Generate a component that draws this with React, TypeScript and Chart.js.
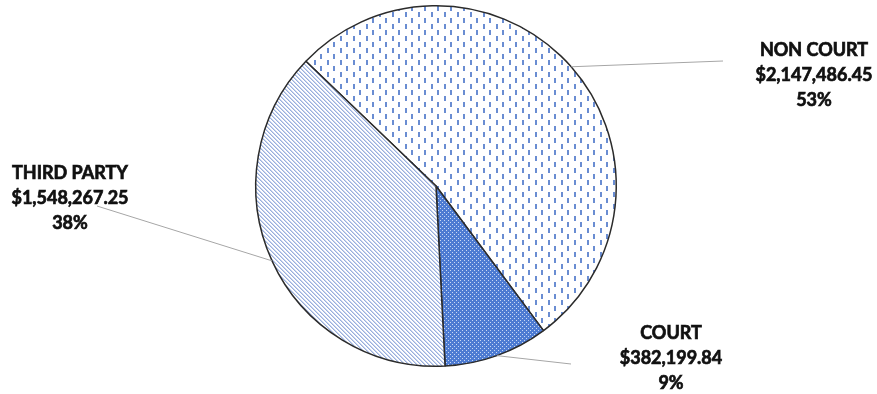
import React, { useEffect, useRef } from "react";
import { Chart, registerables } from "chart.js";

Chart.register(...registerables);

const categories = ["NON COURT", "COURT", "THIRD PARTY"];
const amounts = [2147486.45, 382199.84, 1548267.25];
const amountLabels = ["$2,147,486.45", "$382,199.84", "$1,548,267.25"];
const percentLabels = ["53%", "9%", "38%"];

function makePattern(kind: string): CanvasPattern | string {
  const c = document.createElement("canvas");
  const ctx = c.getContext("2d")!;
  if (kind === "dash") {
    c.width = 13; c.height = 12;
    ctx.fillStyle = "#ffffff"; ctx.fillRect(0, 0, 13, 12);
    ctx.fillStyle = "#6a8dd2";
    ctx.fillRect(2, 0, 2, 5);
    ctx.fillRect(8, 6, 2, 5);
  } else if (kind === "dots") {
    c.width = 4; c.height = 4;
    ctx.fillStyle = "#4d7bd2"; ctx.fillRect(0, 0, 4, 4);
    ctx.fillStyle = "#c9d8f4";
    ctx.fillRect(0, 0, 1, 1);
    ctx.fillRect(2, 2, 1, 1);
  } else {
    c.width = 4; c.height = 4;
    ctx.fillStyle = "#ffffff"; ctx.fillRect(0, 0, 4, 4);
    ctx.fillStyle = "#9aafdc";
    for (let i = 0; i < 4; i++) {
      ctx.fillRect(i, i, 1, 1);
    }
    ctx.fillStyle = "#c9d5ef";
    for (let i = 0; i < 4; i++) {
      ctx.fillRect((i + 1) % 4, i, 1, 1);
    }
  }
  return ctx.createPattern(c, "repeat")!;
}

const labelPos = [
  { x: 814, y: 50, lx: 723, ly: 61 },
  { x: 671, y: 333, lx: 571, ly: 364 },
  { x: 70, y: 173, lx: 97, ly: 206 },
];

const labelPlugin = {
  id: "pieLabels",
  afterDraw(chart: any) {
    const ctx = chart.ctx;
    const meta = chart.getDatasetMeta(0);
    ctx.save();
    meta.data.forEach((arc: any, i: number) => {
      const mid = (arc.startAngle + arc.endAngle) / 2;
      const sx = arc.x + Math.cos(mid) * arc.outerRadius;
      const sy = arc.y + Math.sin(mid) * arc.outerRadius;
      const p = labelPos[i];
      ctx.strokeStyle = "#a6a6a6";
      ctx.lineWidth = 1;
      ctx.beginPath();
      ctx.moveTo(sx, sy);
      ctx.lineTo(p.lx, p.ly);
      ctx.stroke();
      ctx.fillStyle = "#111111";
      ctx.strokeStyle = "#111111";
      ctx.lineWidth = 0.7;
      ctx.font = "bold 18px Lato";
      ctx.textAlign = "center";
      ctx.textBaseline = "middle";
      const lines = [categories[i], amountLabels[i], percentLabels[i]];
      lines.forEach((t, k) => {
        ctx.fillText(t, p.x, p.y + k * 25);
        ctx.strokeText(t, p.x, p.y + k * 25);
      });
    });
    ctx.restore();
  },
};

export default function App() {
  const ref = useRef<HTMLCanvasElement>(null);
  useEffect(() => {
    document.body.style.margin = "0";
    document.body.style.background = "#ffffff";
    const chart = new Chart(ref.current!, {
      type: "pie",
      data: {
        labels: categories,
        datasets: [
          {
            data: amounts,
            backgroundColor: [makePattern("dash"), makePattern("dots"), makePattern("hatch")] as any,
            borderColor: "#2b2b2b",
            borderWidth: 1.5,
          },
        ],
      },
      options: {
        responsive: false,
        animation: false,
        rotation: -46.2,
        layout: { padding: { top: 5, bottom: 27, left: 0, right: 5 } },
        plugins: { legend: { display: false }, tooltip: { enabled: false } },
      },
      plugins: [labelPlugin],
    });
    return () => chart.destroy();
  }, []);
  return (
    <div style={{ width: 877, height: 394 }}>
      <canvas ref={ref} width={877} height={394} />
    </div>
  );
}
